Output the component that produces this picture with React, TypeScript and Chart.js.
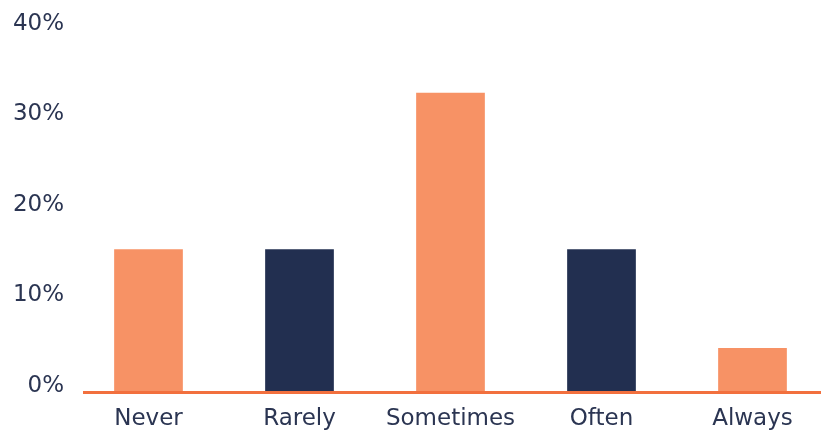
import React, { useEffect, useRef } from "react";
import { Chart, registerables } from "chart.js";

Chart.register(...registerables);

const categories = ["Never", "Rarely", "Sometimes", "Often", "Always"];
const shares = [15, 15, 32.3, 15, 4.1];
const yTicks = [0, 10, 20, 30, 40];

const ORANGE = "#f79265";
const NAVY = "#222f50";
const barColors = [ORANGE, NAVY, ORANGE, NAVY, ORANGE];
const AXIS_COLOR = "#f2703e";
const TEXT_COLOR = "#2b3552";
const FONT = "'DejaVu Sans', sans-serif";
const Y_MIN = -0.88;

const axisLinePlugin = {
  id: "axisLine",
  afterDatasetsDraw(chart: any) {
    const { ctx, chartArea } = chart;
    const y = chart.scales.y.getPixelForValue(Y_MIN);
    ctx.save();
    ctx.strokeStyle = AXIS_COLOR;
    ctx.lineWidth = 3;
    ctx.beginPath();
    ctx.moveTo(chartArea.left + 10, y - 0.5);
    ctx.lineTo(chartArea.right - 7, y - 0.5);
    ctx.stroke();
    ctx.restore();
  },
};

export default function App() {
  const ref = useRef<HTMLCanvasElement>(null);
  useEffect(() => {
    if (!ref.current) return;
    const chart = new Chart(ref.current, {
      type: "bar",
      data: {
        labels: categories,
        datasets: [
          {
            data: shares,
            backgroundColor: barColors,
            base: Y_MIN,
            borderWidth: 0,
            categoryPercentage: 1,
            barPercentage: 0.455,
          } as any,
        ],
      },
      options: {
        animation: false,
        responsive: false,
        maintainAspectRatio: false,
        layout: { padding: { top: 23, right: 2, left: 0, bottom: 0 } },
        plugins: { legend: { display: false }, tooltip: { enabled: false } },
        scales: {
          x: {
            grid: { display: false, drawTicks: false },
            border: { display: false },
            ticks: {
              color: TEXT_COLOR,
              font: { family: FONT, size: 23 },
              padding: 12,
              maxRotation: 0,
            },
            afterFit: (s: any) => {
              s.height = 40;
            },
          },
          y: {
            min: Y_MIN,
            max: 40,
            grid: { display: false, drawTicks: false },
            border: { display: false },
            afterBuildTicks: (s: any) => {
              s.ticks = yTicks.map((v) => ({ value: v }));
            },
            ticks: {
              color: TEXT_COLOR,
              font: { family: FONT, size: 23 },
              padding: 9,
              labelOffset: 1,
              callback: (v: any) => `${v}%`,
            },
            afterFit: (s: any) => {
              s.width = 73;
            },
          },
        },
      },
      plugins: [axisLinePlugin],
    });
    return () => chart.destroy();
  }, []);
  return (
    <div style={{ position: "fixed", left: 0, top: 0, width: 830, height: 433, background: "#fff" }}>
      <canvas ref={ref} width={830} height={433} />
    </div>
  );
}
